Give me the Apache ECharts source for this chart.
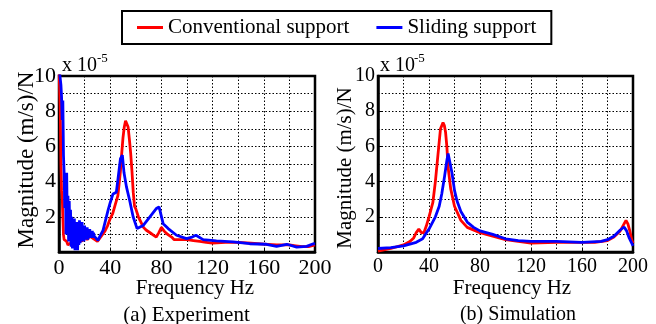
<!DOCTYPE html>
<html>
<head>
<meta charset="utf-8">
<script src="https://cdn.jsdelivr.net/npm/echarts@6/dist/echarts.min.js"></script>
<style>html,body{margin:0;padding:0;background:#fff;}#c{width:656px;height:324px;}</style>
</head>
<body>
<div id="c"></div>
<script>
// ---------------- DATA (magnitude in units of 1e-5 (m/s)/N) ----------------
const legendNames = ['Conventional support', 'Sliding support'];
const xTicks = [0, 40, 80, 120, 160, 200];
const yTicks = [2, 4, 6, 8, 10];

// (a) Experiment - conventional support
const expConvFreq = [0, 0.5, 1, 1.5, 2, 2.5, 3, 3.5, 4, 5, 6, 7, 8, 9, 10, 12, 14, 16, 18, 20, 22, 24, 26, 28, 30, 32, 34, 36, 38, 40, 42, 44, 46, 48, 49, 50, 51, 52, 53, 54, 55, 56, 57, 58, 59, 60, 62, 64, 66, 68, 70, 72, 74, 76, 78, 80, 82, 84, 86, 88, 90, 95, 100, 105, 110, 115, 120, 130, 140, 150, 160, 170, 180, 185, 190, 195, 200];
const expConvVal  = [10.5, 10.5, 8, 5, 3.5, 3.2, 2, 1.0, 0.7, 0.8, 0.6, 0.4, 0.35, 0.5, 0.4, 0.6, 0.5, 0.8, 0.6, 0.9, 0.7, 0.9, 0.8, 0.7, 0.6, 0.8, 1.0, 1.2, 1.5, 1.9, 2.2, 2.7, 3.2, 4.6, 5.6, 6.5, 7.1, 7.45, 7.4, 7.1, 6.4, 5.6, 4.6, 3.4, 2.6, 2.45, 2.0, 1.7, 1.4, 1.25, 1.15, 1.05, 0.95, 0.85, 1.1, 1.4, 1.2, 1.05, 0.95, 0.85, 0.7, 0.7, 0.7, 0.65, 0.6, 0.55, 0.5, 0.55, 0.55, 0.5, 0.45, 0.4, 0.4, 0.35, 0.3, 0.3, 0.4];

// (a) Experiment - sliding support
const expSlideFreq = [0, 0.5, 1, 1.5, 2, 2.5, 3, 3.5, 4, 4.5, 5, 5.5, 6, 6.5, 7, 7.5, 8, 8.5, 9, 9.5, 10, 10.5, 11, 11.5, 12, 12.5, 13, 13.5, 14, 14.5, 15, 15.5, 16, 16.5, 17, 17.5, 18, 18.5, 19, 19.5, 20, 20.5, 21, 21.5, 22, 22.5, 23, 23.5, 24, 24.5, 25, 25.5, 26, 26.5, 27, 27.5, 28, 29, 30.5, 32, 34.4, 36, 38.3, 40, 42.2, 44.8, 46, 48, 49.5, 50.8, 52.7, 55.3, 57.9, 61, 65.7, 71, 76, 78.2, 81.4, 85.3, 91.8, 99.6, 104, 107, 112.6, 123, 136, 149, 162, 170, 178, 185.7, 193.5, 198.7, 200];
const expSlideVal  = [10.5, 10.5, 10.5, 9.5, 8.8, 7.5, 8.6, 5.5, 4.5, 2.5, 4.3, 1.0, 4.5, 1.5, 3.2, 0.6, 2.9, 0.8, 2.4, 0.3, 2.0, 0.2, 1.6, 0.3, 1.9, 0.1, 1.5, 0.2, 1.7, 0.1, 1.3, 0.4, 1.8, 0.5, 1.4, 0.6, 1.7, 0.7, 1.2, 0.6, 1.5, 0.7, 1.3, 0.8, 1.4, 0.7, 1.2, 0.9, 1.3, 0.8, 1.1, 0.9, 1.2, 0.8, 1.1, 0.9, 1.0, 0.8, 0.66, 0.9, 1.23, 1.7, 2.37, 2.8, 3.3, 3.4, 4.1, 5.3, 5.5, 4.5, 3.7, 2.9, 2.0, 1.33, 1.5, 2.0, 2.47, 2.56, 1.6, 1.33, 0.95, 0.76, 0.85, 0.95, 0.7, 0.63, 0.57, 0.47, 0.44, 0.32, 0.44, 0.28, 0.32, 0.47, 0.45];

// (b) Simulation - conventional support
const simConvFreq = [0, 10, 20, 25, 28, 30, 32, 34, 36, 38, 40, 43, 45, 47, 49, 51, 52, 53, 54, 55, 57, 60, 65, 70, 80, 90, 100, 110, 120, 140, 160, 170, 180, 185, 190, 193, 194.5, 196, 197.5, 199, 200];
const simConvVal  = [0.05, 0.2, 0.4, 0.6, 0.8, 1.1, 1.3, 1.1, 1.1, 1.5, 2.0, 2.8, 4.0, 5.5, 7.0, 7.35, 7.2, 6.8, 6.0, 4.8, 3.6, 2.6, 1.8, 1.4, 1.1, 0.9, 0.7, 0.6, 0.5, 0.55, 0.55, 0.55, 0.65, 0.85, 1.2, 1.6, 1.8, 1.6, 1.2, 0.7, 0.5];

// (b) Simulation - sliding support
const simSlideFreq = [0, 10, 20, 30, 35, 38, 40, 45, 48, 50, 52, 54, 55, 56, 58, 60, 62, 65, 70, 75, 80, 90, 100, 110, 120, 140, 160, 175, 180, 185, 190, 193, 195, 197, 199, 200];
const simSlideVal  = [0.2, 0.25, 0.35, 0.55, 0.75, 1.1, 1.3, 2.0, 2.6, 3.3, 4.2, 5.2, 5.6, 5.5, 4.5, 3.5, 2.9, 2.3, 1.7, 1.4, 1.2, 1.0, 0.75, 0.65, 0.6, 0.6, 0.55, 0.6, 0.7, 0.9, 1.25, 1.42, 1.2, 0.8, 0.5, 0.35];

// ---------------- CHART ----------------
const FF = '"Liberation Serif", "Times New Roman", serif';
const RED = '#ff0000', BLUE = '#0000ff';
function zip(f, v) { return f.map((x, i) => [x, v[i]]); }

const dotted = { color: '#000', width: 1, type: [1.5, 2] };

function xAx(gi, fs) {
  return {
    type: 'value', gridIndex: gi, min: xTicks[0], max: xTicks[xTicks.length - 1], interval: xTicks[1] - xTicks[0],
    axisLine: { show: true, onZero: false, lineStyle: { color: '#000', width: 2.5 } },
    axisTick: { show: true, inside: true, length: 4, lineStyle: { color: '#000', width: 1 } },
    axisLabel: { color: '#000', fontFamily: FF, fontSize: fs, margin: 5 },
    splitLine: { show: true, lineStyle: dotted },
    minorTick: { show: false, splitNumber: 2 },
    minorSplitLine: { show: true, lineStyle: dotted }
  };
}
function yAx(gi, fs) {
  return {
    type: 'value', gridIndex: gi, min: 0, max: yTicks[yTicks.length - 1], interval: yTicks[1] - yTicks[0],
    axisLine: { show: true, lineStyle: { color: '#000', width: 2.5 } },
    axisTick: { show: true, inside: true, length: 4, lineStyle: { color: '#000', width: 1 } },
    axisLabel: { color: '#000', fontFamily: FF, fontSize: fs, margin: 3,
      formatter: v => (yTicks.indexOf(v) >= 0 ? String(v) : '') },
    splitLine: { show: true, lineStyle: dotted },
    minorTick: { show: false, splitNumber: 2 },
    minorSplitLine: { show: true, lineStyle: dotted }
  };
}
function line(name, gi, data, color) {
  return {
    name: name, type: 'line', xAxisIndex: gi, yAxisIndex: gi, data: data,
    showSymbol: false, symbol: 'none', clip: true, animation: false,
    lineStyle: { color: color, width: 2.8 }, itemStyle: { color: color }
  };
}
function txt(text, x, y, fs, rot) {
  return {
    type: 'text', x: x, y: y, rotation: rot || 0, silent: true,
    style: { text: text, fill: '#000', font: fs + 'px ' + FF,
      align: 'center', verticalAlign: 'middle', textAlign: 'center', textVerticalAlign: 'middle' }
  };
}
function txtL(text, x, y, fs) {
  return {
    type: 'text', x: x, y: y, silent: true,
    style: { text: text, fill: '#000', font: fs + 'px ' + FF,
      align: 'left', verticalAlign: 'middle', textAlign: 'left', textVerticalAlign: 'middle' }
  };
}

const chart = echarts.init(document.getElementById('c'), null, { renderer: 'canvas' });
chart.setOption({
  animation: false,
  backgroundColor: '#fff',
  legend: {
    data: legendNames, left: 122, top: 11, orient: 'horizontal',
    padding: [6, 15, 6, 15], borderColor: '#000', borderWidth: 2,
    itemWidth: 26, itemHeight: 3, itemGap: 27, icon: 'rect',
    textStyle: { fontFamily: FF, fontSize: 21, color: '#000' }
  },
  grid: [
    { left: 59, top: 76, width: 256, height: 176, show: true, borderColor: '#000', borderWidth: 2.5, backgroundColor: 'transparent' },
    { left: 378, top: 76, width: 255, height: 176, show: true, borderColor: '#000', borderWidth: 2.5, backgroundColor: 'transparent' }
  ],
  xAxis: [xAx(0, 22), xAx(1, 20)],
  yAxis: [yAx(0, 22), yAx(1, 20)],
  series: [
    line(legendNames[0], 0, zip(expConvFreq, expConvVal), RED),
    line(legendNames[1], 0, zip(expSlideFreq, expSlideVal), BLUE),
    line(legendNames[0], 1, zip(simConvFreq, simConvVal), RED),
    line(legendNames[1], 1, zip(simSlideFreq, simSlideVal), BLUE)
  ],
  graphic: [
    txt('Magnitude (m/s)/N', 27, 160, 23, Math.PI / 2),
    txt('Magnitude (m/s)/N', 345, 168, 21, Math.PI / 2),
    txtL('x 10', 62, 66, 20), txtL('-5', 97, 59, 13),
    txtL('x 10', 380, 66, 20), txtL('-5', 414, 59, 13),
    txt('Frequency Hz', 195, 288, 21),
    txt('Frequency Hz', 512, 288, 21),
    txt('(a) Experiment', 186.5, 315, 21),
    txt('(b) Simulation', 518, 315, 20)
  ]
});
</script>
</body>
</html>
